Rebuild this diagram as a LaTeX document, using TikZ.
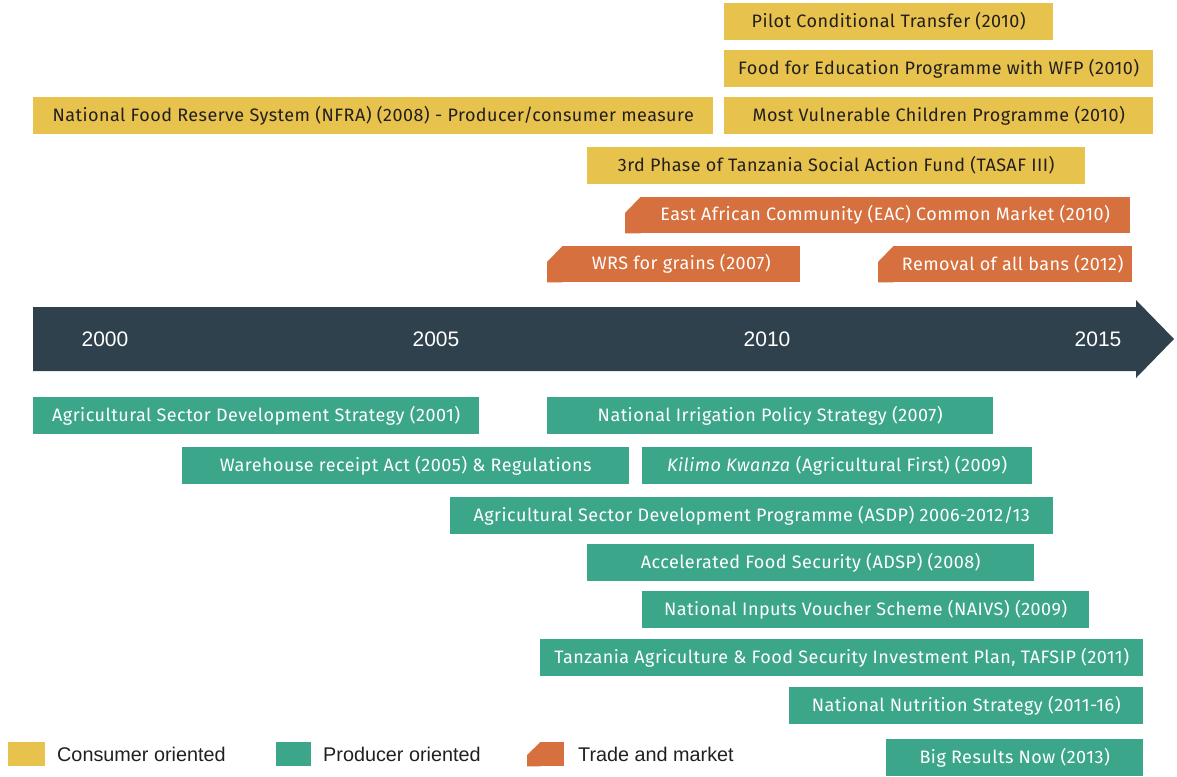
\documentclass[tikz,border=0pt]{standalone}
\usepackage{fontspec}
\setmainfont[LetterSpace=2.6]{Fira Sans}
\newfontfamily\legendfont{Liberation Sans}
\usepackage{tikz}
\definecolor{consyellow}{HTML}{E7C24C}
\definecolor{prodgreen}{HTML}{3CA68B}
\definecolor{tradeorange}{HTML}{D6703E}
\definecolor{timeline}{HTML}{2E414C}
\definecolor{textdark}{HTML}{231F20}

\tikzset{
	box/.style={anchor=north west, inner sep=0pt, minimum height=36.5pt, font=\fontsize{18}{18}\selectfont},
	consumer/.style={box, fill=consyellow, text=textdark},
	producer/.style={box, fill=prodgreen, text=white},
	trade/.style={box, fill=tradeorange, text=white, minimum height=36pt},
	year/.style={text=white, font=\legendfont\fontsize{21}{21}\selectfont},
	legtext/.style={anchor=west, inner sep=0pt, text=textdark, font=\legendfont\fontsize{19.8}{20}\selectfont}
}

\begin{document}
\begin{tikzpicture}[x=1pt,y=-1pt]
	\useasboundingbox (0,0) rectangle (1177,776);
	%timeline arrow
	\fill[timeline] (33,307) -- (1136,307) -- (1136,300) -- (1174,339) -- (1136,378) -- (1136,371) -- (33,371) -- cycle;
	\node[year] (y2000) at (105,339) {2000};
	\node[year] (y2005) at (436,339) {2005};
	\node[year] (y2010) at (767,339) {2010};
	\node[year] (y2015) at (1098,339) {2015};
	
	%consumer oriented
	\node[consumer, minimum width=329pt] (pilot) at (724,3) {Pilot Conditional Transfer (2010)};
	\node[consumer, minimum width=429pt] (foodedu) at (724,50) {Food for Education Programme with WFP (2010)};
	\node[consumer, minimum width=429pt] (mvc) at (724,97) {Most Vulnerable Children Programme (2010)};
	\node[consumer, minimum width=680pt] (nfra) at (33,97) {National Food Reserve System (NFRA) (2008) - Producer/consumer measure};
	\node[consumer, minimum width=498pt] (tasaf) at (587,147) {3rd Phase of Tanzania Social Action Fund (TASAF III)};
	
	%trade and market
	\node[trade, minimum width=490pt] (eac) at (640,197) {East African Community (EAC) Common Market (2010)};
	\node[trade, minimum width=238pt] (wrs) at (562,246) {WRS for grains (2007)};
	\node[trade, minimum width=239pt] (bans) at (893,246) {Removal of all bans (2012)};
	\foreach \n in {eac,wrs,bans}
		\fill[tradeorange] ([xshift=0.5pt]\n.north west) -- ([xshift=0.5pt]\n.south west) -- ([xshift=-15pt]\n.south west) -- ([xshift=-15pt,yshift=-16pt]\n.north west) -- cycle;
	
	%producer oriented
	\node[producer, minimum width=446pt] (asds) at (33,397) {Agricultural Sector Development Strategy (2001)};
	\node[producer, minimum width=446pt] (nips) at (547,397) {National Irrigation Policy Strategy (2007)};
	\node[producer, minimum width=447pt] (wra) at (182,447) {Warehouse receipt Act (2005) \& Regulations};
	\node[producer, minimum width=390pt] (kilimo) at (642,447) {\textit{Kilimo Kwanza} (Agricultural First) (2009)};
	\node[producer, minimum width=603pt] (asdp) at (450,497) {Agricultural Sector Development Programme (ASDP) 2006-2012/13};
	\node[producer, minimum width=447pt] (afs) at (587,544) {Accelerated Food Security (ADSP) (2008)};
	\node[producer, minimum width=447pt] (naivs) at (642,591) {National Inputs Voucher Scheme (NAIVS) (2009)};
	\node[producer, minimum width=603pt] (tafsip) at (540,639) {Tanzania Agriculture \& Food Security Investment Plan, TAFSIP (2011)};
	\node[producer, minimum width=354pt] (nns) at (789,687) {National Nutrition Strategy (2011-16)};
	\node[producer, minimum width=257pt] (brn) at (886,739) {Big Results Now (2013)};
	
	%legend
	\node[fill=consyellow, anchor=north west, inner sep=0pt, minimum width=37pt, minimum height=24pt] (legcons) at (8,742) {};
	\node[legtext] (legconstext) at (57,754) {Consumer oriented};
	\node[fill=prodgreen, anchor=north west, inner sep=0pt, minimum width=35pt, minimum height=24pt] (legprod) at (276,742) {};
	\node[legtext] (legprodtext) at (323,754) {Producer oriented};
	\node[fill=tradeorange, anchor=north west, inner sep=0pt, minimum width=24pt, minimum height=24pt] (legtrade) at (540,742) {};
	\fill[tradeorange] ([xshift=0.5pt]legtrade.north west) -- ([xshift=0.5pt]legtrade.south west) -- ([xshift=-13pt]legtrade.south west) -- ([xshift=-13pt,yshift=-13pt]legtrade.north west) -- cycle;
	\node[legtext] (legtradetext) at (578,754) {Trade and market};
\end{tikzpicture}
\end{document}
